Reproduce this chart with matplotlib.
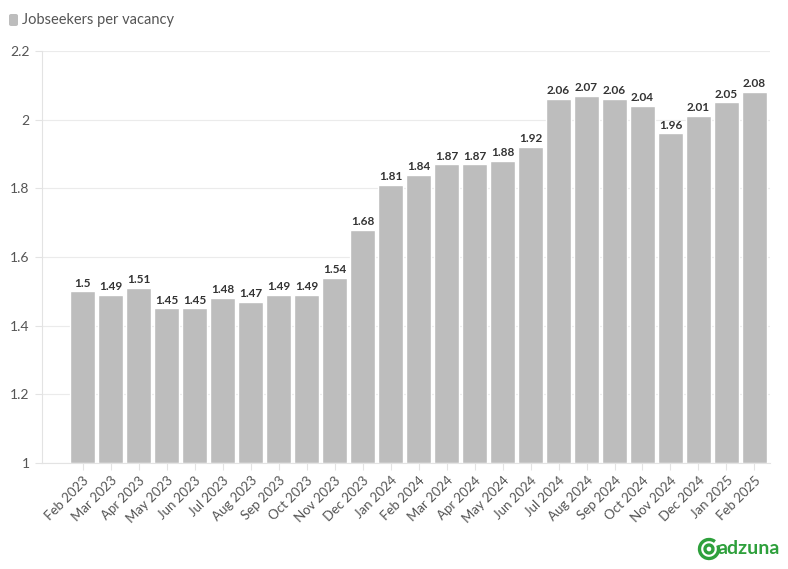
import matplotlib.pyplot as plt
from matplotlib.patches import FancyBboxPatch, Arc

plt.rcParams["font.family"] = ["Lato", "DejaVu Sans"]

months = ["Feb 2023", "Mar 2023", "Apr 2023", "May 2023", "Jun 2023", "Jul 2023",
          "Aug 2023", "Sep 2023", "Oct 2023", "Nov 2023", "Dec 2023", "Jan 2024",
          "Feb 2024", "Mar 2024", "Apr 2024", "May 2024", "Jun 2024", "Jul 2024",
          "Aug 2024", "Sep 2024", "Oct 2024", "Nov 2024", "Dec 2024", "Jan 2025",
          "Feb 2025"]
ratio = [1.5, 1.49, 1.51, 1.45, 1.45, 1.48, 1.47, 1.49, 1.49, 1.54, 1.68, 1.81,
         1.84, 1.87, 1.87, 1.88, 1.92, 2.06, 2.07, 2.06, 2.04, 1.96, 2.01, 2.05,
         2.08]
yticks = [1, 1.2, 1.4, 1.6, 1.8, 2, 2.2]

bar_color = "#bdbdbd"
grid_color = "#ebebeb"
text_color = "#555555"

fig = plt.figure(figsize=(7.88, 5.69), dpi=100)
ax = fig.add_axes([0.0533, 0.1863, 0.9237, 0.7241])

x = list(range(len(months)))
bars = ax.bar(x, [v - 1 for v in ratio], bottom=1, width=0.9,
              color=bar_color, edgecolor="white", linewidth=1, zorder=2)

for xi, v in zip(x, ratio):
    ax.text(xi, v + 0.008, f"{v:g}", ha="center", va="bottom",
            fontsize=8.5, fontweight="bold", color="#333333", zorder=3)

ax.set_ylim(1, 2.2)
ax.set_yticks(yticks)
ax.set_yticklabels([f"{t:g}" for t in yticks], fontsize=10, color=text_color)
ax.set_xlim(-1.45, len(months) - 0.45)
ax.set_xticks(x)
ax.set_xticklabels(months, rotation=45, ha="right", rotation_mode="anchor",
                   fontsize=9.5, color=text_color)

ax.grid(axis="y", color=grid_color, linewidth=0.8, zorder=0)
for s in ["top", "right"]:
    ax.spines[s].set_visible(False)
for s in ["left", "bottom"]:
    ax.spines[s].set_color("#e3e3e3")
    ax.spines[s].set_linewidth(0.8)
ax.tick_params(axis="x", length=5, color="#e3e3e3", pad=3)
ax.tick_params(axis="y", length=5, color="#e3e3e3", pad=4)

# legend
fig.patches.append(FancyBboxPatch((9 / 788, 1 - 26 / 569), 9 / 788, 12 / 569,
                                  boxstyle="round,pad=0,rounding_size=0.003",
                                  transform=fig.transFigure, facecolor=bar_color,
                                  edgecolor="none"))
fig.text(22 / 788, 1 - 20 / 569, "Jobseekers per vacancy", fontsize=10.5,
         color=text_color, va="center", ha="left")

# adzuna logo
green = "#2ea03c"
fig.patches.append(Arc((709 / 788, 1 - 549 / 569), 19 / 788, 19 / 569,
                       theta1=60, theta2=390, transform=fig.transFigure,
                       color=green, linewidth=2.4))
fig.patches.append(Arc((709 / 788, 1 - 549 / 569), 8 / 788, 8 / 569,
                       theta1=0, theta2=360, transform=fig.transFigure,
                       color=green, linewidth=2.4))
fig.text(717 / 788, 1 - 549 / 569, "adzuna", fontsize=14, fontweight="bold",
         color=green, va="center", ha="left")

fig.savefig("out.png", dpi=100)
